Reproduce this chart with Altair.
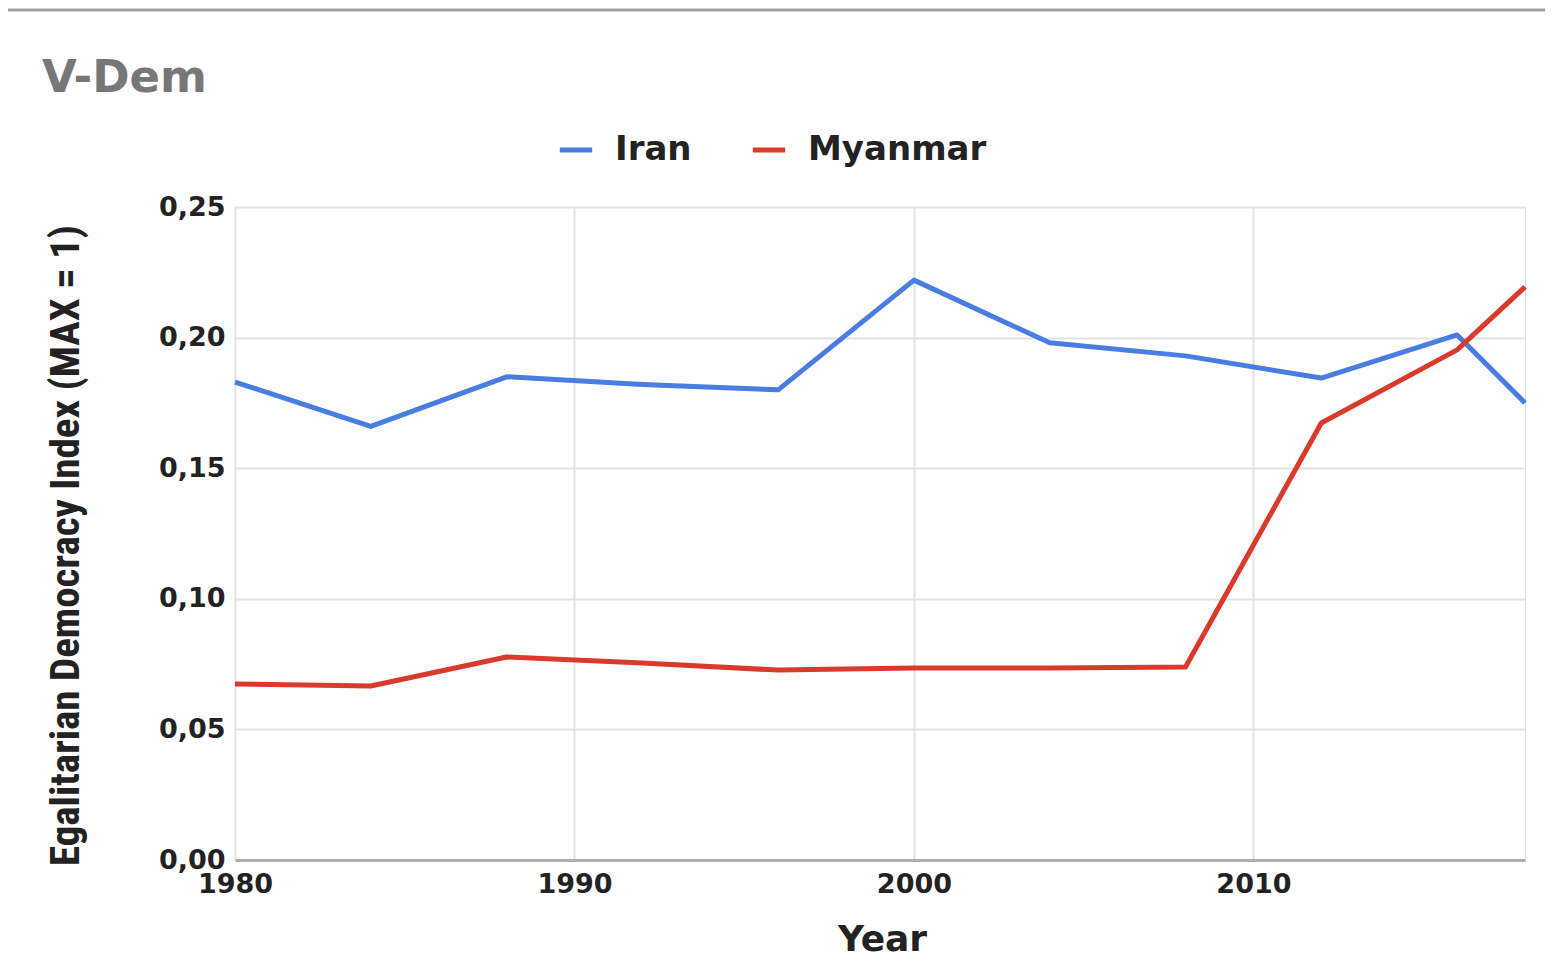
import altair as alt
import pandas as pd

years = [1980, 1984, 1988, 1992, 1996, 2000, 2004, 2008, 2012, 2016, 2018]
iran = [0.183, 0.166, 0.185, 0.182, 0.180, 0.222, 0.198, 0.193, 0.1845, 0.201, 0.175]
myanmar = [0.0674, 0.0666, 0.0777, 0.0754, 0.0727, 0.0735, 0.0735, 0.0739, 0.1673, 0.1953, 0.2194]
series_names = ["Iran", "Myanmar"]
series_colors = ["#4a7de2", "#d93a2c"]
x_ticks = [1980, 1990, 2000, 2010]
y_ticks = [0.0, 0.05, 0.10, 0.15, 0.20, 0.25]
chart_title = "V-Dem"
x_title = "Year"
y_title = "Egalitarian Democracy Index (MAX = 1)"

rows = []
for name, vals in zip(series_names, [iran, myanmar]):
    for yr, v in zip(years, vals):
        rows.append({"Year": yr, "Value": v, "Country": name})
df = pd.DataFrame(rows)

W, H = 1290, 653
LABEL_FONT = "DejaVu Sans"

lines = alt.Chart(df).mark_line(strokeWidth=5, strokeJoin="round").encode(
    x=alt.X("Year:Q",
            scale=alt.Scale(domain=[1980, 2018], nice=False, zero=False),
            axis=alt.Axis(values=x_ticks, format="d", title=x_title,
                          grid=True, gridColor="#e3e3e3", gridWidth=2,
                          domain=True, domainColor="#b0b0b0", domainWidth=3,
                          ticks=False, labelPadding=11, labelFlush=False,
                          labelFont=LABEL_FONT, labelFontSize=27, labelFontWeight="bold",
                          labelColor="#222222",
                          titleFont=LABEL_FONT, titleFontSize=36, titleFontWeight="bold",
                          titleColor="#222222", titleX=647, titleY=90,
                          titleBaseline="alphabetic", titleAlign="center")),
    y=alt.Y("Value:Q",
            scale=alt.Scale(domain=[0, 0.25], nice=False, zero=True),
            axis=alt.Axis(values=y_ticks,
                          labelExpr="replace(format(datum.value, '.2f'), '.', ',')",
                          title=y_title, grid=True, gridColor="#e3e3e3", gridWidth=2,
                          domain=False, ticks=False, labelPadding=10,
                          labelFont=LABEL_FONT, labelFontSize=27, labelFontWeight="bold",
                          labelColor="#222222", labelBaseline="middle",
                          titleFont="Liberation Sans Narrow, Roboto Condensed, Liberation Sans",
                          titleFontSize=41, titleFontWeight="bold", titleColor="#222222",
                          titleAngle=270, titleX=-157, titleY=338, titleLimit=0,
                          titleAlign="center", titleBaseline="alphabetic")),
    color=alt.Color("Country:N",
                    scale=alt.Scale(domain=series_names, range=series_colors),
                    legend=alt.Legend(orient="none", legendX=322, legendY=-76,
                                      direction="horizontal", title=None,
                                      symbolType="stroke", symbolSize=1050,
                                      symbolStrokeWidth=5, labelOffset=20,
                                      columnPadding=50, labelLimit=0,
                                      labelFont=LABEL_FONT, labelFontSize=34,
                                      labelFontWeight="bold", labelColor="#222222")),
)

title_df = pd.DataFrame({"t": [chart_title]})
title_text = alt.Chart(title_df).mark_text(
    align="left", baseline="alphabetic", font=LABEL_FONT, fontSize=45,
    fontWeight="bold", color="#777777"
).encode(text="t:N", x=alt.value(-193), y=alt.value(-115))

border_df = pd.DataFrame({"k": [0]})
border = alt.Chart(border_df).mark_rule(color="#a0a0a0", strokeWidth=3).encode(
    x=alt.value(-235), x2=alt.value(1323), y=alt.value(-197)
)

chart = alt.layer(border, lines, title_text).properties(
    width=W, height=H,
    autosize=alt.AutoSizeParams(type="none"),
    padding={"left": 227, "top": 199, "right": 20, "bottom": 98},
).configure_view(stroke=None).configure(background="white")

chart.save("out.html", embed_options={"renderer": "svg", "actions": False})
